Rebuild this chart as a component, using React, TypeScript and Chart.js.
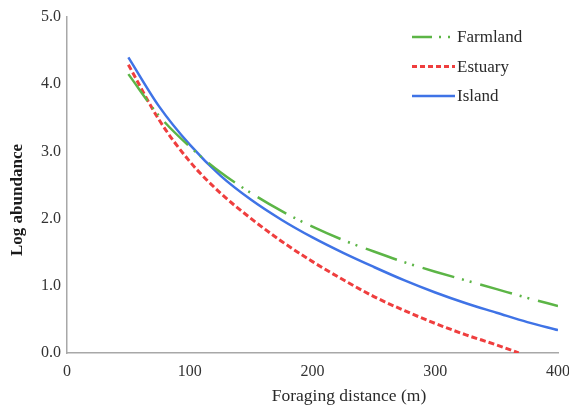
import React, { useEffect, useRef } from 'react';
import { Chart, registerables } from 'chart.js';

Chart.register(...registerables);

const distances = [50, 75, 100, 125, 150, 175, 200, 225, 250, 275, 300, 325, 350, 375, 400];
const farmland = [4.15, 3.53, 3.07, 2.69, 2.38, 2.11, 1.88, 1.68, 1.51, 1.35, 1.21, 1.08, 0.95, 0.82, 0.7];
const island = [4.4, 3.67, 3.1, 2.64, 2.28, 1.98, 1.72, 1.49, 1.28, 1.08, 0.9, 0.74, 0.6, 0.46, 0.34];
const estuaryX = [50, 75, 100, 125, 150, 175, 200, 225, 250, 275, 300, 325, 350, 368];
const estuary = [4.29, 3.47, 2.85, 2.38, 2.0, 1.66, 1.36, 1.09, 0.84, 0.63, 0.44, 0.27, 0.12, 0.0];
const xTickValues = [0, 100, 200, 300, 400];
const yTickValues = [0, 1, 2, 3, 4, 5];

const seriesNames = ['Farmland', 'Estuary', 'Island'];
const xTitle = 'Foraging distance (m)';
const yTitle = 'Log abundance';

const FONT = "'Liberation Serif', 'Times New Roman', serif";

const toPoints = (xs: number[], ys: number[]) => xs.map((x, i) => ({ x, y: ys[i] }));

const legendPlugin = {
  id: 'insideLegend',
  afterDraw(chart: any) {
    const ctx = chart.ctx;
    const opts = chart.options.plugins.insideLegend;
    const { left, top, rowGap, sampleWidth, textGap } = opts;
    chart.data.datasets.forEach((ds: any, i: number) => {
      const y = top + i * rowGap;
      ctx.save();
      ctx.strokeStyle = ds.borderColor;
      ctx.lineWidth = ds.borderWidth;
      ctx.setLineDash(opts.dashes[i] || []);
      ctx.beginPath();
      ctx.moveTo(left, y);
      ctx.lineTo(left + sampleWidth, y);
      ctx.stroke();
      ctx.restore();
      ctx.save();
      ctx.fillStyle = '#2a2a2a';
      ctx.font = `17px ${FONT}`;
      ctx.textAlign = 'left';
      ctx.textBaseline = 'middle';
      ctx.fillText(ds.label, left + sampleWidth + textGap, y + 1);
      ctx.restore();
    });
  },
};

const axisTitlePlugin = {
  id: 'axisTitles',
  afterDraw(chart: any) {
    const ctx = chart.ctx;
    const o = chart.options.plugins.axisTitles;
    ctx.save();
    ctx.fillStyle = '#2a2a2a';
    ctx.font = `17.5px ${FONT}`;
    ctx.textAlign = 'center';
    ctx.textBaseline = 'middle';
    ctx.fillText(o.x, o.xPos[0], o.xPos[1]);
    ctx.restore();
    ctx.save();
    ctx.fillStyle = '#1a1a1a';
    ctx.font = `bold 17px ${FONT}`;
    ctx.textAlign = 'center';
    ctx.textBaseline = 'middle';
    ctx.translate(o.yPos[0], o.yPos[1]);
    ctx.rotate(-Math.PI / 2);
    ctx.fillText(o.y, 0, 0);
    ctx.restore();
  },
};

export default function App() {
  const ref = useRef<HTMLCanvasElement | null>(null);

  useEffect(() => {
    document.body.style.margin = '0';
    const canvas = ref.current;
    if (!canvas) return;
    const chart = new Chart(canvas, {
      type: 'line',
      data: {
        datasets: [
          {
            label: seriesNames[0],
            data: toPoints(distances, farmland),
            borderColor: '#5cb546',
            borderWidth: 2.5,
            borderDash: [33, 8, 2, 6, 2, 9],
            pointRadius: 0,
            cubicInterpolationMode: 'monotone',
            fill: false,
          },
          {
            label: seriesNames[1],
            data: toPoints(estuaryX, estuary),
            borderColor: '#ef3e3e',
            borderWidth: 3,
            borderDash: [6, 3],
            pointRadius: 0,
            cubicInterpolationMode: 'monotone',
            fill: false,
          },
          {
            label: seriesNames[2],
            data: toPoints(distances, island),
            borderColor: '#3f73e6',
            borderWidth: 2.5,
            pointRadius: 0,
            cubicInterpolationMode: 'monotone',
            fill: false,
          },
        ],
      },
      options: {
        animation: false,
        responsive: false,
        maintainAspectRatio: false,
        layout: { padding: { top: 17, right: 0, left: 0, bottom: 0 } },
        plugins: {
          legend: { display: false },
          tooltip: { enabled: false },
          insideLegend: {
            left: 412,
            top: 37,
            rowGap: 29.5,
            sampleWidth: 43,
            textGap: 2,
            dashes: [[20, 7, 2, 7, 2, 5], [5, 3], []],
          },
          axisTitles: {
            x: xTitle,
            y: yTitle,
            xPos: [349, 396],
            yPos: [18, 200],
          },
        } as any,
        scales: {
          x: {
            type: 'linear',
            min: 0,
            max: 400,
            afterBuildTicks: (axis: any) => {
              axis.ticks = xTickValues.map((v) => ({ value: v }));
            },
            afterFit: (axis: any) => {
              axis.height = 55;
              axis.paddingRight = 11;
              axis.paddingLeft = 0;
            },
            grid: { display: false, drawTicks: false },
            border: { display: true, color: '#a8a8a8', width: 1.5 },
            ticks: {
              color: '#333',
              font: { family: FONT, size: 16 },
              padding: 9,
              maxRotation: 0,
            },
          },
          y: {
            type: 'linear',
            min: 0,
            max: 5,
            afterBuildTicks: (axis: any) => {
              axis.ticks = yTickValues.map((v) => ({ value: v }));
            },
            afterFit: (axis: any) => {
              axis.width = 67;
            },
            grid: { display: false, drawTicks: false },
            border: { display: true, color: '#a8a8a8', width: 1.5 },
            ticks: {
              color: '#333',
              font: { family: FONT, size: 16 },
              padding: 6,
              callback: (v: any) => Number(v).toFixed(1),
            },
          },
        },
      },
      plugins: [legendPlugin, axisTitlePlugin],
    });
    return () => chart.destroy();
  }, []);

  return (
    <div style={{ width: 569, height: 408, background: '#fff' }}>
      <canvas ref={ref} width={569} height={408} style={{ display: 'block' }} />
    </div>
  );
}
